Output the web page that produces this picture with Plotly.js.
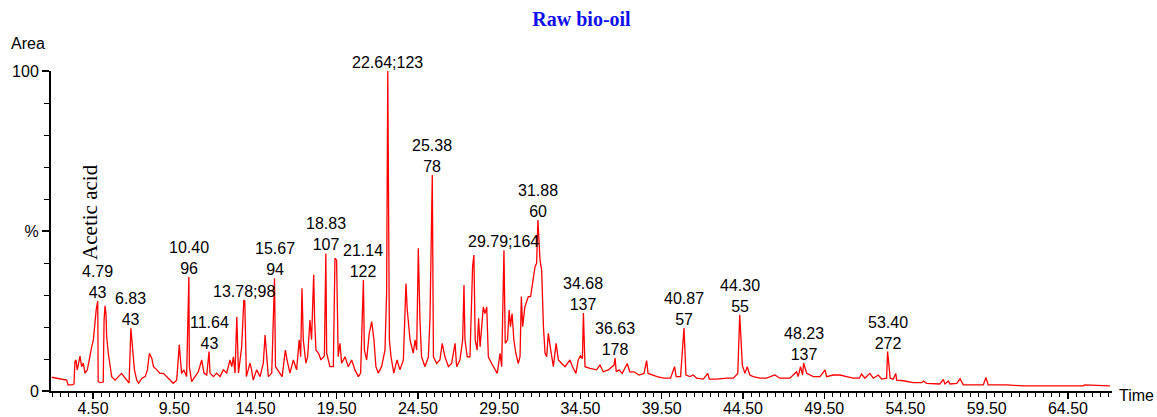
<!DOCTYPE html>
<html>
<head>
<meta charset="utf-8">
<script src="https://cdn.plot.ly/plotly-3.0.1.min.js"></script>
<style>html,body{margin:0;padding:0;background:#fff;}#chart{width:1157px;height:417px;}</style>
</head>
<body>
<div id="chart"></div>
<script>
// Retention time (min) and relative abundance (%)
const time = [1.96,2.88,2.96,3.21,3.33,3.39,3.45,3.53,3.70,3.80,3.90,4.01,4.15,4.32,4.42,4.52,4.59,4.65,4.70,4.79,
4.82,4.93,5.13,5.18,5.24,5.30,5.34,5.44,5.55,5.65,5.86,6.06,6.26,6.41,6.61,6.72,6.83,6.95,7.05,7.19,
7.30,7.51,7.71,7.85,7.97,8.12,8.22,8.43,8.62,8.83,9.03,9.24,9.44,9.65,9.81,9.95,10.09,10.26,10.40,10.43,
10.57,10.78,10.98,11.19,11.33,11.50,11.64,11.70,11.91,12.11,12.32,12.52,12.73,12.93,13.04,13.14,13.24,13.35,13.45,13.65,
13.78,13.84,13.94,14.16,14.26,14.36,14.57,14.78,14.98,15.09,15.19,15.29,15.50,15.67,15.73,15.93,16.14,16.34,16.44,16.62,
16.83,17.03,17.19,17.28,17.36,17.44,17.60,17.71,17.85,17.95,18.08,18.14,18.22,18.38,18.53,18.74,18.83,18.88,19.08,19.29,
19.39,19.49,19.59,19.70,19.80,20.01,20.21,20.42,20.62,20.83,20.97,21.14,21.20,21.34,21.50,21.65,21.79,21.91,22.05,22.26,
22.47,22.57,22.64,22.74,22.84,23.01,23.21,23.39,23.60,23.76,23.84,24.01,24.21,24.32,24.42,24.52,24.62,24.72,24.93,25.14,
25.24,25.38,25.45,25.65,25.85,25.99,26.16,26.37,26.57,26.78,26.88,27.08,27.25,27.33,27.39,27.53,27.70,27.86,27.94,28.02,
28.14,28.23,28.32,28.52,28.62,28.73,28.83,29.03,29.24,29.38,29.55,29.65,29.79,29.87,30.01,30.11,30.19,30.29,30.40,30.52,
30.67,30.78,30.86,30.94,31.08,31.29,31.43,31.60,31.70,31.80,31.88,32.01,32.11,32.22,32.32,32.42,32.52,32.67,32.83,33.00,
33.14,33.34,33.55,33.85,34.01,34.22,34.36,34.50,34.62,34.68,34.78,35.08,35.49,35.70,35.90,36.21,36.42,36.56,36.63,36.70,
36.87,37.07,37.38,37.53,37.79,38.10,38.41,38.57,38.66,38.91,39.22,39.63,40.04,40.29,40.39,40.66,40.87,40.99,41.24,41.44,
41.65,42.06,42.33,42.43,42.88,43.50,43.91,44.18,44.30,44.46,44.62,44.76,44.92,45.13,45.54,45.95,46.46,46.77,47.39,47.80,
47.90,48.04,48.17,48.23,48.42,48.83,49.24,49.55,49.65,50.06,50.47,50.88,51.29,51.66,51.80,52.00,52.31,52.52,52.83,53.03,
53.34,53.40,53.56,53.75,53.90,53.96,54.36,54.98,55.50,55.60,55.80,56.62,56.83,56.93,57.14,57.24,57.66,57.86,58.06,58.47,
59.29,59.45,59.59,60.72,61.74,63.38,65.43,65.54,67.08];
const abundance = [4.3,3.4,1.9,1.9,2.2,9.2,9.7,6.6,10.9,7.6,8.7,5.6,6.6,11.9,13.8,15.9,20.0,22.8,25.5,28.1,
2.9,2.6,2.8,22.0,26.6,24.0,17.0,11.8,7.6,4.5,3.4,4.5,5.5,4.5,3.4,2.5,19.6,12.8,6.6,3.4,
2.4,4.0,4.5,6.6,11.8,10.2,7.6,6.6,5.5,5.5,4.5,3.4,2.4,3.4,14.4,5.5,6.6,4.5,35.7,7.6,
2.9,4.5,6.0,9.7,5.6,5.0,12.3,5.6,4.5,5.6,4.5,6.6,5.6,9.7,7.6,10.7,5.6,23.2,5.6,13.8,
28.4,28.2,4.5,8.7,6.6,3.4,6.6,4.5,8.7,17.5,9.7,4.5,5.6,35.2,7.6,6.0,4.5,12.8,9.7,5.6,
9.7,6.6,16.0,10.7,32.1,16.0,8.7,10.7,22.2,16.0,36.3,22.0,12.8,11.8,9.7,11.0,43.0,11.8,7.6,7.6,
41.5,40.9,10.7,14.9,8.7,10.7,7.6,9.7,6.6,4.5,5.6,34.7,12.8,9.7,18.0,21.7,16.0,7.6,5.6,7.6,
12.8,30.8,100,16.0,10.7,5.6,9.7,6.6,9.7,33.6,25.3,16.0,11.8,16.0,12.8,44.6,22.2,10.7,7.6,10.7,
23.2,67.5,10.7,8.6,9.7,14.9,10.7,7.6,8.6,14.9,7.6,9.7,16.0,33.1,16.0,10.7,10.7,38.8,42.5,16.0,
12.8,22.7,13.8,26.3,24.2,26.3,10.7,8.6,6.6,5.5,11.8,7.6,44.0,14.9,16.0,25.3,20.1,24.2,16.0,11.8,
8.6,10.7,29.5,20.1,26.3,29.5,29.5,34.7,38.8,39.9,53.4,40.9,37.8,20.1,11.8,10.7,18.0,12.8,7.6,14.9,
9.7,8.6,7.6,9.7,7.6,5.5,9.7,11.0,10.1,24.4,7.6,7.1,6.6,8.1,6.0,6.6,7.6,8.1,10.3,6.0,
6.6,5.5,8.6,6.0,6.0,5.0,5.5,9.5,5.5,5.0,4.5,4.0,4.0,7.6,4.5,4.5,19.7,5.0,4.5,5.0,
4.0,3.7,5.5,3.7,3.7,4.0,4.0,5.5,23.8,8.1,5.5,7.6,5.0,4.5,4.0,4.0,5.0,4.0,4.0,6.0,
4.5,7.6,5.0,8.75,5.5,4.5,4.5,6.6,4.5,5.0,5.0,4.5,4.0,4.0,5.3,4.0,5.5,4.0,5.0,3.7,
4.0,12.3,4.0,3.7,5.5,3.4,3.2,2.6,2.6,3.1,2.4,2.2,3.6,2.2,3.1,2.2,2.4,3.8,1.9,1.9,
1.9,4.2,1.9,1.9,1.6,1.6,1.6,1.9,1.6];

// Labelled peaks: retention time and label text
const peakTimes  = [4.79, 6.83, 10.40, 11.64, 13.78, 15.67, 18.83, 21.14, 22.64, 25.38, 29.79, 31.88, 34.68, 36.63, 40.87, 44.30, 48.23, 53.40];
const peakLabels = ["4.79<br>43","6.83<br>43","10.40<br>96","11.64<br>43","13.78;98","15.67<br>94","18.83<br>107","21.14<br>122",
  "22.64;123","25.38<br>78","29.79;164","31.88<br>60","34.68<br>137","36.63<br>178","40.87<br>57","44.30<br>55","48.23<br>137","53.40<br>272"];

const yTickVals = [0, 50, 100];
const yTickText = ["0", "%", "100"];
const compoundNote = "Acetic acid";
const compoundTime = 4.32, compoundLevel = 56;

const FONT = "Liberation Sans, Arial, sans-serif";
const SERIF = "Liberation Serif, Times New Roman, serif";

const annotations = peakTimes.map((t, i) => {
  const idx = time.indexOf(t);
  return {
    x: t, y: abundance[idx], xref: 'x', yref: 'y',
    text: peakLabels[i], showarrow: false,
    xanchor: 'center', yanchor: 'bottom', yshift: -1, borderpad: 0,
    font: {family: FONT, size: 16, color: '#000'}
  };
});
annotations.push({
  x: compoundTime, y: compoundLevel, xref: 'x', yref: 'y', text: compoundNote,
  textangle: -90, showarrow: false, xanchor: 'center', yanchor: 'middle',
  font: {family: SERIF, size: 21, color: '#000'}
});
annotations.push({
  x: 0, y: 1, xref: 'paper', yref: 'paper', text: 'Area', showarrow: false,
  xanchor: 'left', yanchor: 'bottom', xshift: -42, yshift: 17,
  font: {family: FONT, size: 16, color: '#000'}
});
annotations.push({
  x: 1, y: 0, xref: 'paper', yref: 'paper', text: 'Time', showarrow: false,
  xanchor: 'left', yanchor: 'middle', xshift: 5, yshift: -4,
  font: {family: FONT, size: 16, color: '#000'}
});

const trace = {
  x: time, y: abundance, type: 'scatter', mode: 'lines',
  line: {color: '#ff0000', width: 1.3}, hoverinfo: 'skip'
};

const layout = {
  width: 1157, height: 417,
  margin: {l: 51, r: 45, t: 71, b: 26},
  paper_bgcolor: '#fff', plot_bgcolor: '#fff',
  showlegend: false,
  title: {text: '<b>Raw bio-oil</b>', x: 0.5, xref: 'paper', y: 0.955, yanchor: 'middle',
          font: {family: SERIF, size: 20, color: '#1010ee'}},
  xaxis: {
    range: [1.915, 67.21], showgrid: false, zeroline: false,
    showline: true, linecolor: '#000', linewidth: 2,
    tick0: 4.5, dtick: 5, tickformat: '.2f', ticks: 'outside', ticklen: 6, tickwidth: 1.3, tickcolor: '#000',
    ticklabelstandoff: -4,
    minor: {tick0: 4.5, dtick: 0.5, ticks: 'outside', ticklen: 4, tickwidth: 1, tickcolor: '#000', showgrid: false},
    tickfont: {family: FONT, size: 16, color: '#000'}
  },
  yaxis: {
    range: [0, 100], showgrid: false, zeroline: false,
    showline: true, linecolor: '#000', linewidth: 2,
    tickvals: yTickVals, ticktext: yTickText, ticks: 'outside', ticklen: 7, tickwidth: 1.3, tickcolor: '#000',
    minor: {dtick: 10, ticks: 'outside', ticklen: 5, tickwidth: 1, tickcolor: '#000', showgrid: false},
    tickfont: {family: FONT, size: 16, color: '#000'}
  },
  annotations: annotations
};

Plotly.newPlot('chart', [trace], layout, {displayModeBar: false, staticPlot: true});
</script>
</body>
</html>
